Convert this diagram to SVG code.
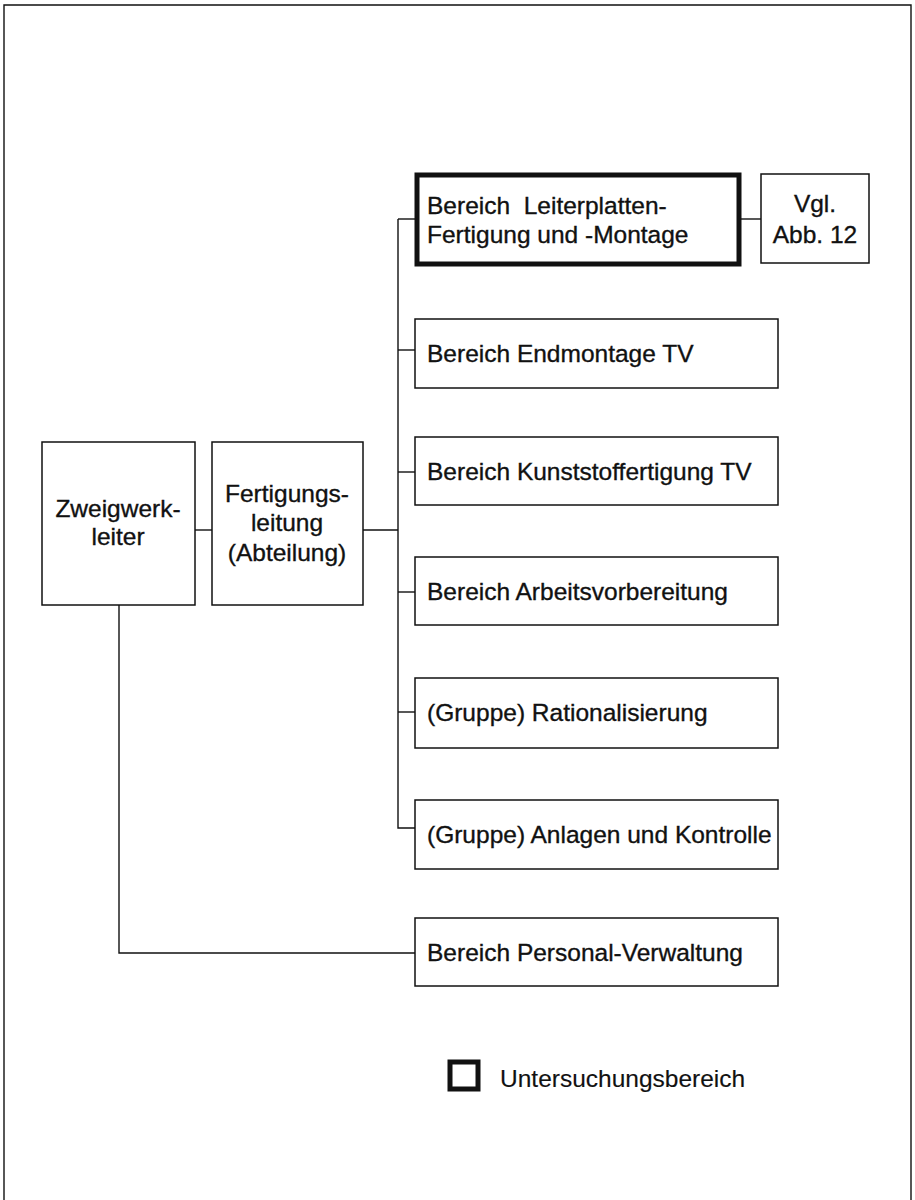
<svg xmlns="http://www.w3.org/2000/svg" width="915" height="1200" viewBox="0 0 915 1200">
<style>
.box{fill:#fff;stroke:#111;stroke-width:1.5}
.thick{fill:#fff;stroke:#111;stroke-width:5}
.ln{fill:none;stroke:#111;stroke-width:1.4}
text{font-family:"Liberation Sans",Arial,sans-serif;font-size:24.5px;fill:#111;stroke:#111;stroke-width:0.35}
.c{text-anchor:middle}
</style>
<rect width="915" height="1200" fill="#fff"/>
<path class="ln" d="M4,1200 V5 H911 V1200" stroke-width="1.8"/>
<g id="connectors">
<path class="ln" d="M195,530 H212"/>
<path class="ln" d="M363,530 H398"/>
<path class="ln" d="M398,219 V828 H415"/>
<path class="ln" d="M398,219 H416"/>
<path class="ln" d="M741,219 H761"/>
<path class="ln" d="M398,350 H415"/>
<path class="ln" d="M398,472 H415"/>
<path class="ln" d="M398,592 H415"/>
<path class="ln" d="M398,712 H415"/>
<path class="ln" d="M119,605 V953 H415"/>
</g>
<g id="zweigwerkleiter">
<rect class="box" x="42" y="442" width="153" height="163"/>
<text class="c" x="118" y="517">Zweigwerk-</text>
<text class="c" x="118" y="545">leiter</text>
</g>
<g id="fertigungsleitung">
<rect class="box" x="212" y="442" width="151" height="163"/>
<text class="c" x="287" y="502">Fertigungs-</text>
<text class="c" x="287" y="531">leitung</text>
<text class="c" x="287" y="561">(Abteilung)</text>
</g>
<g id="leiterplatten">
<rect class="thick" x="417" y="175" width="322" height="89"/>
<text x="427" y="214" xml:space="preserve">Bereich  Leiterplatten-</text>
<text x="427" y="243">Fertigung und -Montage</text>
</g>
<g id="vgl">
<rect class="box" x="761" y="174" width="108" height="89"/>
<text class="c" x="815" y="212">Vgl.</text>
<text class="c" x="815" y="243">Abb. 12</text>
</g>
<g id="endmontage">
<rect class="box" x="415" y="319" width="363" height="69"/>
<text x="427" y="362">Bereich Endmontage TV</text>
</g>
<g id="kunststoff">
<rect class="box" x="415" y="437" width="363" height="68"/>
<text x="427" y="480">Bereich Kunststoffertigung TV</text>
</g>
<g id="arbeitsvorbereitung">
<rect class="box" x="415" y="557" width="363" height="68"/>
<text x="427" y="600">Bereich Arbeitsvorbereitung</text>
</g>
<g id="rationalisierung">
<rect class="box" x="415" y="678" width="363" height="70"/>
<text x="427" y="721">(Gruppe) Rationalisierung</text>
</g>
<g id="anlagen">
<rect class="box" x="415" y="800" width="363" height="69"/>
<text x="427" y="843">(Gruppe) Anlagen und Kontrolle</text>
</g>
<g id="personal">
<rect class="box" x="415" y="918" width="363" height="68"/>
<text x="427" y="961">Bereich Personal-Verwaltung</text>
</g>
<g id="legend">
<rect class="thick" x="450" y="1062" width="28" height="27" stroke-width="5"/>
<text x="500" y="1087" style="stroke-width:0.15">Untersuchungsbereich</text>
</g>
</svg>
